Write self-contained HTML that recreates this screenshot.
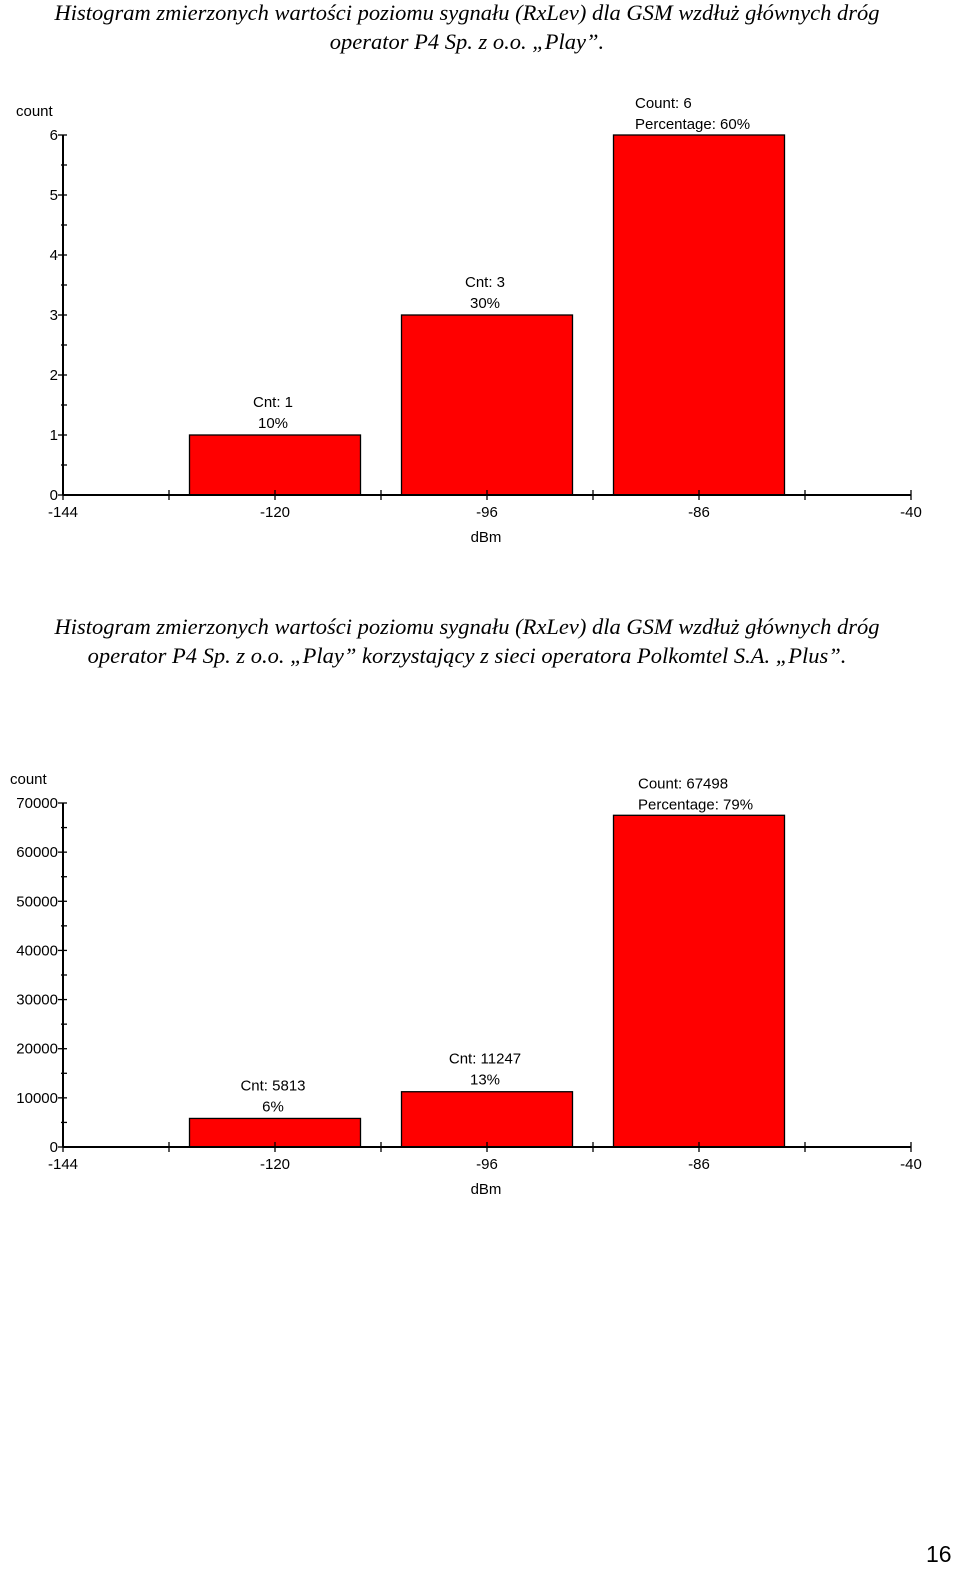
<!DOCTYPE html>
<html><head><meta charset="utf-8">
<style>
html,body{margin:0;padding:0;background:#fff;width:960px;height:1574px;overflow:hidden;position:relative}
.title{position:absolute;left:0;width:934px;text-align:center;font-family:"Liberation Serif",serif;font-style:italic;font-size:22.5px;line-height:29px;color:#000;white-space:nowrap}
svg{position:absolute;left:0;top:0}
svg text{font-family:"Liberation Sans",sans-serif;font-size:15px;fill:#000}
.pnum{position:absolute;left:926px;top:1541px;font-family:"Liberation Sans",sans-serif;font-size:23px}
</style></head>
<body>
<div class="title" style="top:-2px">Histogram zmierzonych wartości poziomu sygnału (RxLev) dla GSM wzdłuż głównych dróg<br>operator P4 Sp. z o.o. „Play”.</div>
<div class="title" style="top:612px">Histogram zmierzonych wartości poziomu sygnału (RxLev) dla GSM wzdłuż głównych dróg<br>operator P4 Sp. z o.o. „Play” korzystający z sieci operatora Polkomtel S.A. „Plus”.</div>
<svg id="svg" width="960" height="1574"></svg>
<div class="pnum">16</div>
<script>
const xTickLabels = ["-144","-120","-96","-86","-40"];
const c1Counts = [1, 3, 6];
const c1Pcts = ["10%", "30%", "60%"];
const c1YTicks = [0,1,2,3,4,5,6];
const c2Counts = [5813, 11247, 67498];
const c2Pcts = ["6%", "13%", "79%"];
const c2YTicks = [0,10000,20000,30000,40000,50000,60000,70000];

const NS = "http://www.w3.org/2000/svg";
const svg = document.getElementById('svg');
function mk(tag, attrs, txt){
  const e = document.createElementNS(NS, tag);
  for (const k in attrs) e.setAttribute(k, attrs[k]);
  if (txt !== undefined) e.textContent = txt;
  svg.appendChild(e);
  return e;
}
function drawChart(id, baseY, topY, yMax, yTicks, counts, pcts, bigLabelX){
  const x0 = 63, x1 = 911, step = (x1 - x0) / 8;
  const y = v => baseY - v / yMax * (baseY - topY);
  const xc = i => x0 + step * (2 * i + 2);
  // bars
  counts.forEach((c, i) => {
    const cx = xc(i);
    const r = mk('rect', {x: cx - 85.5, y: y(c), width: 171, height: baseY - y(c), fill: '#ff0000', stroke: '#000', 'stroke-width': 1.3});
    
    
    if (i < counts.length - 1) {
      const t1 = mk('text', {x: cx - 2, y: y(c) - 28, 'text-anchor': 'middle'}, 'Cnt: ' + c);
      
      
      const t2 = mk('text', {x: cx - 2, y: y(c) - 7, 'text-anchor': 'middle'}, pcts[i]);
      
      
    } else {
      const t1 = mk('text', {x: bigLabelX, y: y(c) - 27}, 'Count: ' + c);
      
      
      const t2 = mk('text', {x: bigLabelX, y: y(c) - 6}, 'Percentage: ' + pcts[i]);
      
      
    }
  });
  // axes
  const ax = mk('line', {x1: x0, y1: topY, x2: x0, y2: baseY, stroke: '#000', 'stroke-width': 2});
  
  
  const axx = mk('line', {x1: x0, y1: baseY, x2: x1, y2: baseY, stroke: '#000', 'stroke-width': 2});
  
  
  // y ticks
  const tickStep = yTicks[1] - yTicks[0];
  for (let k = 0; k < yTicks.length; k++) {
    const v = yTicks[k];
    const ty = y(v);
    mk('line', {x1: x0 - 5, y1: ty, x2: x0 + 4, y2: ty, stroke: '#000', 'stroke-width': 1.3});
    const t = mk('text', {x: x0 - 5, y: ty + 5, 'text-anchor': 'end'}, String(v));
    
    
    if (k < yTicks.length - 1) {
      const my = y(v + tickStep / 2);
      mk('line', {x1: x0 - 2, y1: my, x2: x0 + 4, y2: my, stroke: '#000', 'stroke-width': 1.3});
    }
  }
  // x ticks
  for (let k = 0; k <= 8; k++) {
    const tx = x0 + step * k;
    mk('line', {x1: tx, y1: baseY - 5, x2: tx, y2: baseY + 5, stroke: '#000', 'stroke-width': 1.3});
  }
  xTickLabels.forEach((lab, k) => {
    const t = mk('text', {x: x0 + step * 2 * k, y: baseY + 22, 'text-anchor': 'middle'}, lab);
    
    
  });
  const xt = mk('text', {x: 486, y: baseY + 47, 'text-anchor': 'middle'}, 'dBm');
  
  
}
drawChart('chart-1', 495, 135, 6, c1YTicks, c1Counts, c1Pcts, 635);
drawChart('chart-2', 1147, 803, 70000, c2YTicks, c2Counts, c2Pcts, 638);
const yt1 = mk('text', {x: 16, y: 116}, 'count');


const yt2 = mk('text', {x: 10, y: 784}, 'count');


</script>
</body></html>
